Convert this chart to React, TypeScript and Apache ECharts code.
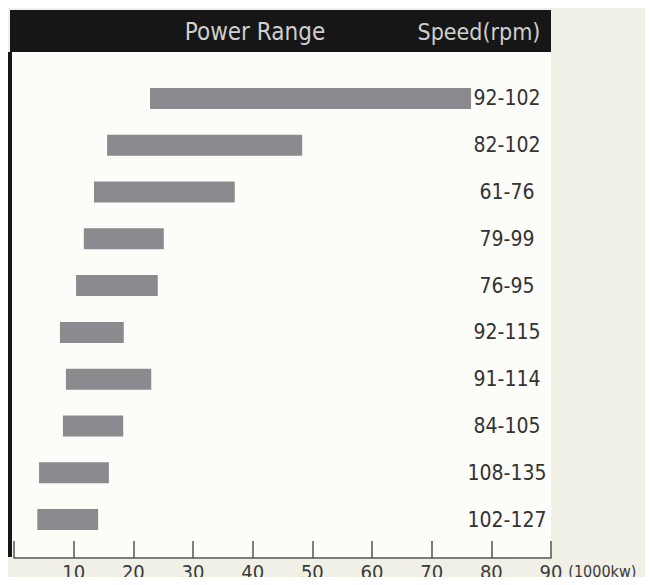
import React, { useEffect, useRef } from "react";
import * as echarts from "echarts";

const speeds = ["92-102", "82-102", "61-76", "79-99", "76-95", "92-115", "91-114", "84-105", "108-135", "102-127"];
const powerMin = [22.8, 15.6, 13.4, 11.7, 10.4, 7.7, 8.7, 8.2, 4.2, 3.9];
const powerMax = [76.6, 48.3, 37.0, 25.1, 24.1, 18.4, 23.0, 18.3, 15.9, 14.1];
const headerPower = "Power Range";
const headerSpeed = "Speed(rpm)";
const unitLabel = "(1000kw)";

const FONT = '"DejaVu Sans Condensed", "Liberation Sans Narrow", sans-serif';

export default function App() {
  const ref = useRef<HTMLDivElement>(null);
  useEffect(() => {
    if (!ref.current) return;
    const chart = echarts.init(ref.current, null, { renderer: "svg" });
    const spans = powerMax.map((v, i) => +(v - powerMin[i]).toFixed(2));
    chart.setOption({
      animation: false,
      backgroundColor: "#f1f0e6",
      graphic: [
        { type: "rect", z: -10, shape: { x: 12, y: 52, width: 539, height: 506 }, style: { fill: "#fcfcf8" } },
        { type: "rect", z: 10, shape: { x: 10, y: 10, width: 541, height: 42 }, style: { fill: "#161616" } },
        { type: "rect", z: 10, shape: { x: 0, y: 52, width: 12, height: 505 }, style: { fill: "#161616" } },
        {
          type: "text", z: 11, x: 255, y: 32,
          style: { text: headerPower, fill: "#cfcfcf", font: `24px ${FONT}`, textAlign: "center", textVerticalAlign: "middle" },
        },
        {
          type: "text", z: 11, x: 479, y: 32,
          style: { text: headerSpeed, fill: "#cfcfcf", font: `23px ${FONT}`, textAlign: "center", textVerticalAlign: "middle" },
        },
      ],
      grid: { left: 14, right: 102, top: 75, bottom: 42, containLabel: false },
      xAxis: {
        type: "value",
        min: 0,
        max: 90,
        interval: 10,
        offset: 15,
        axisLine: { show: true, lineStyle: { color: "#555", width: 1.5 } },
        axisTick: { show: true, inside: true, length: 17, lineStyle: { color: "#555", width: 1.5 } },
        splitLine: { show: false },
        axisLabel: {
          color: "#3a3a3a",
          fontSize: 20,
          fontFamily: FONT,
          margin: 4,
          formatter: (v: number) => (v === 0 ? "" : String(v)),
        },
        name: unitLabel,
        nameLocation: "end",
        nameGap: 8,
        nameTextStyle: { color: "#3a3a3a", fontSize: 16, fontFamily: FONT, align: "left", verticalAlign: "top", lineHeight: 26 },
      },
      yAxis: [
        {
          type: "category",
          data: speeds,
          inverse: true,
          axisLine: { show: false },
          axisTick: { show: false },
          axisLabel: { show: false },
        },
        {
          type: "category",
          data: speeds,
          inverse: true,
          position: "right",
          axisLine: { show: false },
          axisTick: { show: false },
          axisLabel: {
            show: true,
            inside: true,
            margin: 44,
            align: "center",
            color: "#333",
            fontSize: 21,
            fontFamily: FONT,
          },
        },
      ],
      series: [
        {
          type: "bar",
          stack: "p",
          data: powerMin,
          barWidth: 21,
          itemStyle: { color: "transparent" },
          silent: true,
        },
        {
          type: "bar",
          stack: "p",
          data: spans,
          barWidth: 21,
          itemStyle: { color: "#8b8b8f" },
        },
      ],
    });
    return () => chart.dispose();
  }, []);
  return <div ref={ref} style={{ width: 653, height: 585, margin: -8 }} />;
}
